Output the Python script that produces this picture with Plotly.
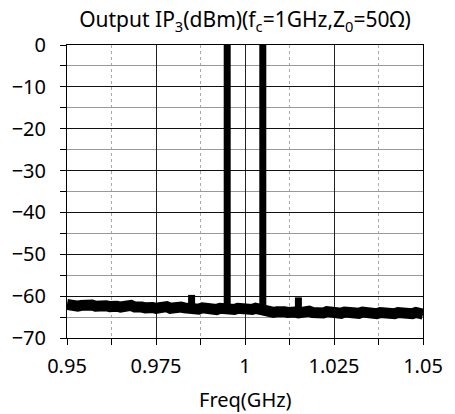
import plotly.graph_objects as go

# ---- data ----
freq_start = 0.950
freq_step = 0.001
noise_dbm = [
    -62.0, -62.3, -62.1, -62.4, -62.2, -62.0, -62.3, -62.1, -62.4, -62.2, -62.0,
    -62.3, -62.5, -62.2, -62.4, -62.6, -62.3, -62.5, -62.2, -62.6, -62.4,
    -62.6, -62.8, -62.5, -62.7, -62.9, -62.6, -62.8, -62.5, -62.9, -62.7,
    -62.9, -62.6, -62.8, -63.0, -62.7, -62.9, -63.1, -62.8, -63.0, -62.7,
    -63.0, -63.2, -62.9, -63.1, -62.8, -63.0, -63.2, -62.9, -63.1, -62.8,
    -63.0, -63.2, -62.9, -63.1, -63.3, -63.8, -63.6, -63.9, -63.7, -64.0,
    -63.7, -63.9, -63.6, -63.8, -64.0, -63.7, -63.9, -63.6, -63.9, -64.1,
    -63.8, -64.0, -63.7, -63.9, -64.2, -63.9, -64.1, -63.8, -64.0, -64.2,
    -63.9, -64.1, -63.8, -64.0, -64.3, -64.0, -64.2, -63.9, -64.1, -64.3,
    -64.0, -64.2, -63.9, -64.1, -64.3, -64.0, -64.2, -63.9, -64.1, -64.3,
]
freq_ghz = [round(freq_start + i * freq_step, 4) for i in range(len(noise_dbm))]

# tones and IM3 products
spike_freq = [0.985, 0.995, 1.005, 1.015]
spike_base = [-62.8, -63.0, -63.3, -63.9]
spike_peak = [-59.7, 0.0, 0.0, -60.3]

x_tickvals = [0.95, 0.975, 1.0, 1.025, 1.05]
x_ticktext = ["0.95", "0.975", "1", "1.025", "1.05"]
y_tickvals = [0, -10, -20, -30, -40, -50, -60, -70]

FONT = "Noto Sans"

spx, spy = [], []
for f, b, p in zip(spike_freq, spike_base, spike_peak):
    spx += [f, f, None]
    spy += [b, p, None]

fig = go.Figure()
fig.add_trace(go.Scatter(x=freq_ghz, y=noise_dbm, mode="lines",
                         line=dict(color="black", width=11), showlegend=False))
fig.add_trace(go.Scatter(x=spx, y=spy, mode="lines",
                         line=dict(color="black", width=7), showlegend=False))

fig.update_layout(
    width=455, height=414,
    margin=dict(l=65, r=23, t=45, b=76),
    paper_bgcolor="white", plot_bgcolor="white",
    font=dict(family=FONT, size=20, color="black"),
    title=dict(text="Output IP<sub>3</sub>(dBm)(f<sub>c</sub>=1GHz,Z<sub>0</sub>=50Ω)",
               x=0.5, xref="paper", xanchor="center",
               y=1 - 20 / 414, yref="container", yanchor="middle",
               font=dict(family=FONT, size=21, color="black")),
    annotations=[dict(text="Freq(GHz)", xref="paper", yref="paper", x=0.5, y=0,
                      xanchor="center", yanchor="middle", yshift=-61, showarrow=False,
                      font=dict(family=FONT, size=20, color="black"))],
)

fig.update_xaxes(
    range=[0.95, 1.05], tickmode="array", tickvals=x_tickvals, ticktext=x_ticktext,
    ticks="outside", ticklen=6, tickcolor="black", tickwidth=1,
    showline=True, linecolor="black", linewidth=1, mirror=True,
    showgrid=True, gridcolor="#222222", gridwidth=1, zeroline=False,
    ticklabelstandoff=4,
    minor=dict(dtick=0.0125, tick0=0.95, ticks="outside", ticklen=6, tickcolor="black",
               showgrid=True, gridcolor="#aaaaaa", griddash="dot", gridwidth=1),
)
fig.update_yaxes(
    range=[-70, 0], tickmode="array", tickvals=y_tickvals,
    ticks="outside", ticklen=6, tickcolor="black", tickwidth=1,
    showline=True, linecolor="black", linewidth=1, mirror=True,
    showgrid=True, gridcolor="#111111", gridwidth=1, zeroline=False,
    ticklabelstandoff=10,
    minor=dict(dtick=5, tick0=0, ticks="outside", ticklen=6, tickcolor="black",
               showgrid=True, gridcolor="#999999", gridwidth=1),
)

fig.write_html("out.html")
